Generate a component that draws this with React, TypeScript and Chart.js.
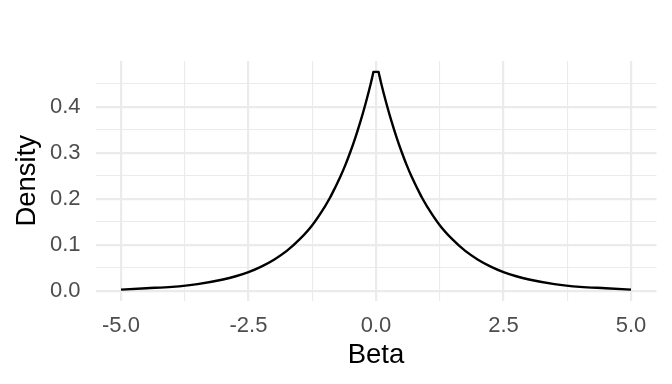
import React, { useEffect, useRef } from "react";
import { Chart, registerables } from "chart.js";

Chart.register(...registerables);

const betaValues = [
  -5, -4.5, -4, -3.5, -3, -2.75, -2.5, -2.25, -2, -1.75, -1.5, -1.25, -1,
  -0.9, -0.8, -0.7, -0.6, -0.5, -0.4, -0.3, -0.2, -0.1, -0.05,
  0.05, 0.1, 0.2, 0.3, 0.4, 0.5, 0.6, 0.7, 0.8, 0.9,
  1, 1.25, 1.5, 1.75, 2, 2.25, 2.5, 2.75, 3, 3.5, 4, 4.5, 5,
];
const densityValues = [
  0.003, 0.006, 0.009, 0.015, 0.025, 0.032, 0.041, 0.053, 0.068, 0.087, 0.112, 0.143, 0.184,
  0.203, 0.225, 0.248, 0.274, 0.303, 0.335, 0.37, 0.409, 0.452, 0.476,
  0.476, 0.452, 0.409, 0.37, 0.335, 0.303, 0.274, 0.248, 0.225, 0.203,
  0.184, 0.143, 0.112, 0.087, 0.068, 0.053, 0.041, 0.032, 0.025, 0.015, 0.009, 0.006, 0.003,
];
const xTickValues = [-5, -3.75, -2.5, -1.25, 0, 1.25, 2.5, 3.75, 5];
const xMajorTicks = [-5, -2.5, 0, 2.5, 5];
const yTickValues = [0, 0.05, 0.1, 0.15, 0.2, 0.25, 0.3, 0.35, 0.4, 0.45];
const yMajorTicks = [0, 0.1, 0.2, 0.3, 0.4];

const FONT = "'Liberation Sans', Arial, sans-serif";
const GRID = "#EBEBEB";

const isIn = (arr: number[], v: number) => arr.some((a) => Math.abs(a - v) < 1e-9);

export default function App() {
  const ref = useRef<HTMLCanvasElement | null>(null);

  useEffect(() => {
    if (!ref.current) return;
    const points = betaValues.map((x, i) => ({ x, y: densityValues[i] }));
    const peakLeft = betaValues.indexOf(-0.05);
    const peakRight = betaValues.indexOf(0.05);
    const lineStyle = {
      borderColor: "#000000",
      borderWidth: 2.4,
      borderCapStyle: "butt",
      borderJoinStyle: "round",
      pointRadius: 0,
      fill: false,
    };
    const chart = new Chart(ref.current, {
      type: "line",
      data: {
        datasets: [
          { ...lineStyle, data: points.slice(0, peakLeft + 1), cubicInterpolationMode: "monotone" },
          { ...lineStyle, data: points.slice(peakLeft, peakRight + 1), tension: 0, borderCapStyle: "round" },
          { ...lineStyle, data: points.slice(peakRight), cubicInterpolationMode: "monotone" },
        ],
      },
      options: {
        animation: false,
        responsive: false,
        events: [],
        layout: { padding: { top: 61, right: 15.5, left: 0, bottom: 0 } },
        plugins: { legend: { display: false }, tooltip: { enabled: false } },
        scales: {
          x: {
            type: "linear",
            min: -5.5,
            max: 5.5,
            afterBuildTicks: (scale: any) => {
              scale.ticks = xTickValues.map((v) => ({ value: v }));
            },
            afterFit: (scale: any) => {
              scale.height = 83.5;
            },
            border: { display: false },
            grid: {
              color: GRID,
              drawTicks: false,
              lineWidth: (ctx: any) => (isIn(xMajorTicks, ctx.tick?.value) ? 2.2 : 1.1),
            },
            ticks: {
              autoSkip: false,
              maxRotation: 0,
              padding: 12,
              color: "#4D4D4D",
              font: { family: FONT, size: 22 },
              callback: (v: any) => (isIn(xMajorTicks, Number(v)) ? Number(v).toFixed(1) : ""),
            },
            title: {
              display: true,
              text: "Beta",
              color: "#000000",
              font: { family: FONT, size: 27.5 },
              padding: { top: 0, bottom: 12 },
            },
          },
          y: {
            type: "linear",
            min: -0.0207,
            max: 0.4997,
            afterBuildTicks: (scale: any) => {
              scale.ticks = yTickValues.map((v) => ({ value: v }));
            },
            afterFit: (scale: any) => {
              scale.width = 95.5;
            },
            border: { display: false },
            grid: {
              color: GRID,
              drawTicks: false,
              lineWidth: (ctx: any) => (isIn(yMajorTicks, ctx.tick?.value) ? 2.2 : 1.1),
            },
            ticks: {
              autoSkip: false,
              padding: 15,
              color: "#4D4D4D",
              font: { family: FONT, size: 22 },
              callback: (v: any) => (isIn(yMajorTicks, Number(v)) ? Number(v).toFixed(1) : ""),
            },
            title: {
              display: true,
              text: "Density",
              color: "#000000",
              font: { family: FONT, size: 27.5 },
              padding: { top: 11, bottom: 0 },
            },
          },
        },
      },
    } as any);
    return () => chart.destroy();
  }, []);

  return (
    <div style={{ position: "fixed", left: 0, top: 0, width: 672, height: 384, background: "#fff" }}>
      <canvas ref={ref} width={672} height={384} />
    </div>
  );
}
